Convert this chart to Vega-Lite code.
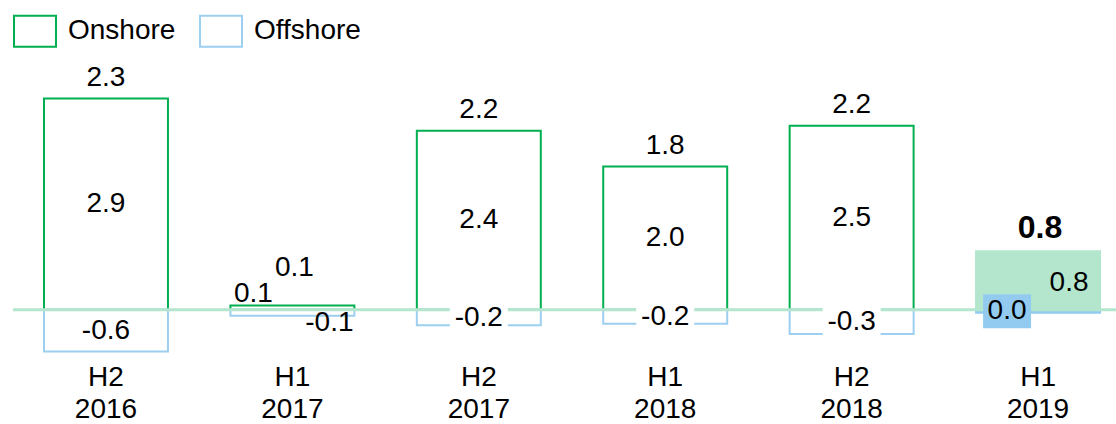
{
  "$schema": "https://vega.github.io/schema/vega-lite/v6.json",
  "width": 1103,
  "height": 307,
  "autosize": {"type": "none"},
  "padding": {"left": 13, "top": 54, "right": 0, "bottom": 63},
  "background": "white",
  "config": {"view": {"stroke": null}, "font": "Liberation Sans"},
  "datasets": {
    "bars": [
      {"period": "H2 2016", "type": "Onshore", "value": 2.89, "label": "2.9", "total": "2.3"},
      {"period": "H2 2016", "type": "Offshore", "value": -0.57, "label": "-0.6", "total": "2.3"},
      {"period": "H1 2017", "type": "Onshore", "value": 0.06, "label": "0.1", "total": "0.1"},
      {"period": "H1 2017", "type": "Offshore", "value": -0.08, "label": "-0.1", "total": "0.1"},
      {"period": "H2 2017", "type": "Onshore", "value": 2.45, "label": "2.4", "total": "2.2"},
      {"period": "H2 2017", "type": "Offshore", "value": -0.21, "label": "-0.2", "total": "2.2"},
      {"period": "H1 2018", "type": "Onshore", "value": 1.96, "label": "2.0", "total": "1.8"},
      {"period": "H1 2018", "type": "Offshore", "value": -0.19, "label": "-0.2", "total": "1.8"},
      {"period": "H2 2018", "type": "Onshore", "value": 2.52, "label": "2.5", "total": "2.2"},
      {"period": "H2 2018", "type": "Offshore", "value": -0.33, "label": "-0.3", "total": "2.2"},
      {"period": "H1 2019", "type": "Onshore", "value": 0.8, "label": "0.8", "total": "0.8"},
      {"period": "H1 2019", "type": "Offshore", "value": -0.04, "label": "0.0", "total": "0.8"}
    ]
  },
  "layer": [
    {
      "data": {"name": "bars"},
      "transform": [{"filter": "datum.period !== 'H1 2019'"}],
      "mark": {"type": "bar", "fill": "white", "strokeWidth": 2},
      "encoding": {
        "x": {"field": "period", "type": "nominal", "sort": null, "scale": {"paddingInner": 0.335, "paddingOuter": 0.126, "align": 0.66}, "axis": {"title": null, "domain": false, "ticks": false, "tickSize": 0, "labelFontSize": 28, "labelColor": "#000000", "labelAngle": 0, "labelExpr": "split(datum.label, ' ')", "labelLineHeight": 32, "labelBaseline": "top", "labelPadding": 2}},
        "y": {"field": "value", "type": "quantitative", "stack": "zero", "scale": {"domain": [-0.7, 3.5], "nice": false}, "axis": null},
        "stroke": {"field": "type", "type": "nominal", "scale": {"domain": ["Onshore", "Offshore"], "range": ["#00b050", "#9ccff0"]}, "legend": {"orient": "none", "legendX": 0, "legendY": -45, "direction": "horizontal", "title": null, "symbolType": "M-1,-0.738L1,-0.738L1,0.738L-1,0.738Z", "symbolSize": 1764, "symbolStrokeWidth": 2, "symbolFillColor": "white", "labelFontSize": 28, "labelOffset": 11, "columnPadding": 20, "labelColor": "#000000", "padding": 0, "labelLimit": 300}}
      }
    },
    {
      "data": {"name": "bars"},
      "transform": [{"filter": "datum.period === 'H1 2019'"}],
      "mark": {"type": "bar", "strokeWidth": 2},
      "encoding": {
        "x": {"field": "period", "type": "nominal", "sort": null},
        "y": {"field": "value", "type": "quantitative", "stack": "zero"},
        "detail": {"field": "type"},
        "fill": {"condition": {"test": "datum.type === 'Offshore'", "value": "#92cbef"}, "value": "#b3e6cc"},
        "stroke": {"condition": {"test": "datum.type === 'Offshore'", "value": "#92cbef"}, "value": "#b3e6cc"}
      }
    },
    {
      "data": {"values": [{"zero": 0}]},
      "mark": {"type": "rule", "color": "#b3e6cc", "strokeWidth": 3},
      "encoding": {"y": {"field": "zero", "type": "quantitative"}}
    },
    {
      "data": {"name": "bars"},
      "transform": [{"filter": "datum.type === 'Offshore' && indexof(['H2 2017','H1 2018','H2 2018'], datum.period) >= 0"}],
      "mark": {"type": "point", "shape": "M-1,-0.5L1,-0.5L1,0.5L-1,0.5Z", "size": 3364, "filled": true, "fill": "white", "opacity": 1, "strokeWidth": 0},
      "encoding": {
        "x": {"field": "period", "type": "nominal", "sort": null},
        "y": {"field": "value", "type": "quantitative", "stack": "zero", "bandPosition": 0.5},
        "detail": {"field": "type"}
      }
    },
    {
      "data": {"name": "bars"},
      "transform": [{"filter": "indexof(['H1 2017','H1 2019'], datum.period) < 0"}],
      "mark": {"type": "text", "fontSize": 28, "color": "#000000", "baseline": "middle"},
      "encoding": {
        "x": {"field": "period", "type": "nominal", "sort": null},
        "y": {"field": "value", "type": "quantitative", "stack": "zero", "bandPosition": 0.5},
        "detail": {"field": "type"},
        "text": {"field": "label"}
      }
    },
    {
      "data": {"name": "bars"},
      "transform": [{"filter": "datum.period === 'H1 2017' && datum.type === 'Onshore'"}],
      "mark": {"type": "text", "fontSize": 28, "color": "#000000", "baseline": "middle", "dx": -39, "dy": -14},
      "encoding": {
        "x": {"field": "period", "type": "nominal", "sort": null},
        "y": {"field": "value", "type": "quantitative", "stack": "zero", "bandPosition": 0.5},
        "detail": {"field": "type"},
        "text": {"field": "label"}
      }
    },
    {
      "data": {"name": "bars"},
      "transform": [{"filter": "datum.period === 'H1 2017' && datum.type === 'Offshore'"}],
      "mark": {"type": "text", "fontSize": 28, "color": "#000000", "baseline": "middle", "dx": 37, "dy": 10},
      "encoding": {
        "x": {"field": "period", "type": "nominal", "sort": null},
        "y": {"field": "value", "type": "quantitative", "stack": "zero", "bandPosition": 0.5},
        "detail": {"field": "type"},
        "text": {"field": "label"}
      }
    },
    {
      "data": {"name": "bars"},
      "transform": [{"filter": "datum.period === 'H1 2019' && datum.type === 'Offshore'"}],
      "mark": {"type": "point", "shape": "M-2.29,-0.71L-0.29,-0.71L-0.29,0.71L-2.29,0.71Z", "size": 2304, "filled": true, "fill": "#92cbef", "opacity": 1, "strokeWidth": 0},
      "encoding": {
        "x": {"field": "period", "type": "nominal", "sort": null},
        "y": {"field": "value", "type": "quantitative", "stack": "zero", "bandPosition": 0.5},
        "detail": {"field": "type"}
      }
    },
    {
      "data": {"name": "bars"},
      "transform": [{"filter": "datum.period === 'H1 2019' && datum.type === 'Onshore'"}],
      "mark": {"type": "text", "fontSize": 28, "color": "#000000", "baseline": "middle", "dx": 31, "dy": 2},
      "encoding": {
        "x": {"field": "period", "type": "nominal", "sort": null},
        "y": {"field": "value", "type": "quantitative", "stack": "zero", "bandPosition": 0.5},
        "detail": {"field": "type"},
        "text": {"field": "label"}
      }
    },
    {
      "data": {"name": "bars"},
      "transform": [{"filter": "datum.period === 'H1 2019' && datum.type === 'Offshore'"}],
      "mark": {"type": "text", "fontSize": 28, "color": "#000000", "baseline": "middle", "dx": -31},
      "encoding": {
        "x": {"field": "period", "type": "nominal", "sort": null},
        "y": {"field": "value", "type": "quantitative", "stack": "zero", "bandPosition": 0.5},
        "detail": {"field": "type"},
        "text": {"field": "label"}
      }
    },
    {
      "data": {"name": "bars"},
      "transform": [{"filter": "datum.type === 'Onshore' && indexof(['H1 2017','H1 2019'], datum.period) < 0"}],
      "mark": {"type": "text", "fontSize": 28, "color": "#000000", "baseline": "middle", "dy": -21},
      "encoding": {
        "x": {"field": "period", "type": "nominal", "sort": null},
        "y": {"field": "value", "type": "quantitative"},
        "text": {"field": "total"}
      }
    },
    {
      "data": {"name": "bars"},
      "transform": [{"filter": "datum.type === 'Onshore' && datum.period === 'H1 2017'"}],
      "mark": {"type": "text", "fontSize": 28, "color": "#000000", "baseline": "middle", "dx": 2, "dy": -37},
      "encoding": {
        "x": {"field": "period", "type": "nominal", "sort": null},
        "y": {"field": "value", "type": "quantitative"},
        "text": {"field": "total"}
      }
    },
    {
      "data": {"name": "bars"},
      "transform": [{"filter": "datum.type === 'Onshore' && datum.period === 'H1 2019'"}],
      "mark": {"type": "text", "fontSize": 32, "fontWeight": "bold", "color": "#000000", "baseline": "middle", "dx": 2, "dy": -23},
      "encoding": {
        "x": {"field": "period", "type": "nominal", "sort": null},
        "y": {"field": "value", "type": "quantitative"},
        "text": {"field": "total"}
      }
    }
  ]
}
